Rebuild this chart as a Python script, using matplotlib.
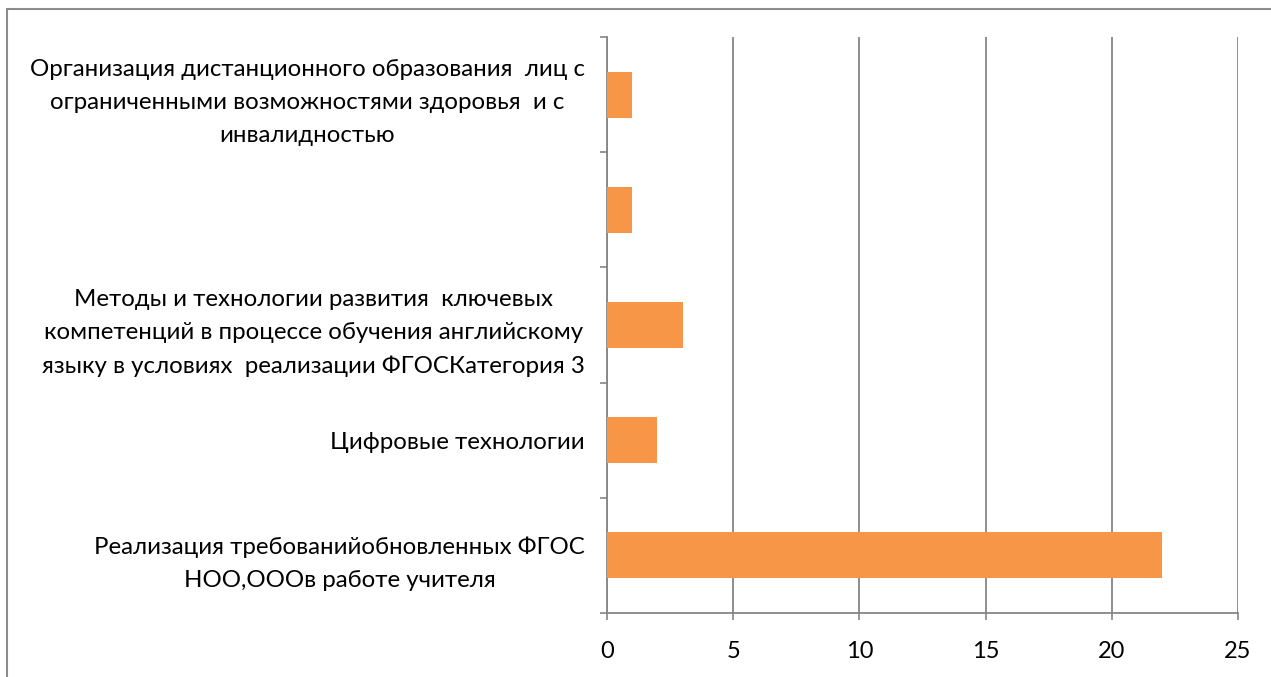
import matplotlib.pyplot as plt
from matplotlib.patches import Rectangle

# Data (bottom to top, as drawn)
categories = [
    "Реализация требованийобновленных ФГОС\nНОО,ОООв работе учителя",
    "Цифровые технологии",
    "Методы и технологии развития  ключевых\nкомпетенций в процессе обучения английскому\nязыку в условиях  реализации ФГОСКатегория 3",
    "",
    "Организация дистанционного образования  лиц с\nограниченными возможностями здоровья  и с\nинвалидностью",
]
values = [22, 2, 3, 1, 1]
x_ticks = [0, 5, 10, 15, 20, 25]

bar_color = "#F79646"
grid_color = "#868686"

plt.rcParams['font.family'] = ['Lato', 'DejaVu Sans']

fig = plt.figure(figsize=(12.71, 6.77), dpi=100)
ax = fig.add_axes([607 / 1271, 64 / 677, 631 / 1271, 576 / 677])

# chart frame (cut off at the right and bottom edges)
fig.patches.append(Rectangle((7 / 1271, -0.1), 1.2, (677 - 9) / 677 + 0.1,
                             transform=fig.transFigure, fill=False,
                             edgecolor="#8c8c8c", linewidth=1.5))

pos = list(range(len(categories)))
ax.barh(pos, values, height=0.4, color=bar_color, zorder=3)

ax.set_xlim(0, 25)
ax.set_ylim(-0.5, len(categories) - 0.5)
ax.set_xticks(x_ticks)
ax.set_xticklabels([str(t) for t in x_ticks], fontsize=17)
ax.set_yticks(pos)
ax.set_yticklabels(categories, fontsize=17.3, multialignment="center", linespacing=1.72)
ax.set_yticks([p - 0.5 for p in pos] + [len(pos) - 0.5], minor=True)

ax.tick_params(axis="y", which="major", length=0, pad=16)
ax.tick_params(axis="y", which="minor", length=5, width=1.2, color=grid_color, direction="out")
ax.tick_params(axis="x", length=5, width=1.2, color=grid_color, pad=15)

ax.grid(axis="x", color=grid_color, linewidth=1.3, zorder=0)
for side in ["top", "right"]:
    ax.spines[side].set_visible(False)
for side in ["left", "bottom"]:
    ax.spines[side].set_color(grid_color)
    ax.spines[side].set_linewidth(1.3)

fig.savefig("out.png", dpi=100)
